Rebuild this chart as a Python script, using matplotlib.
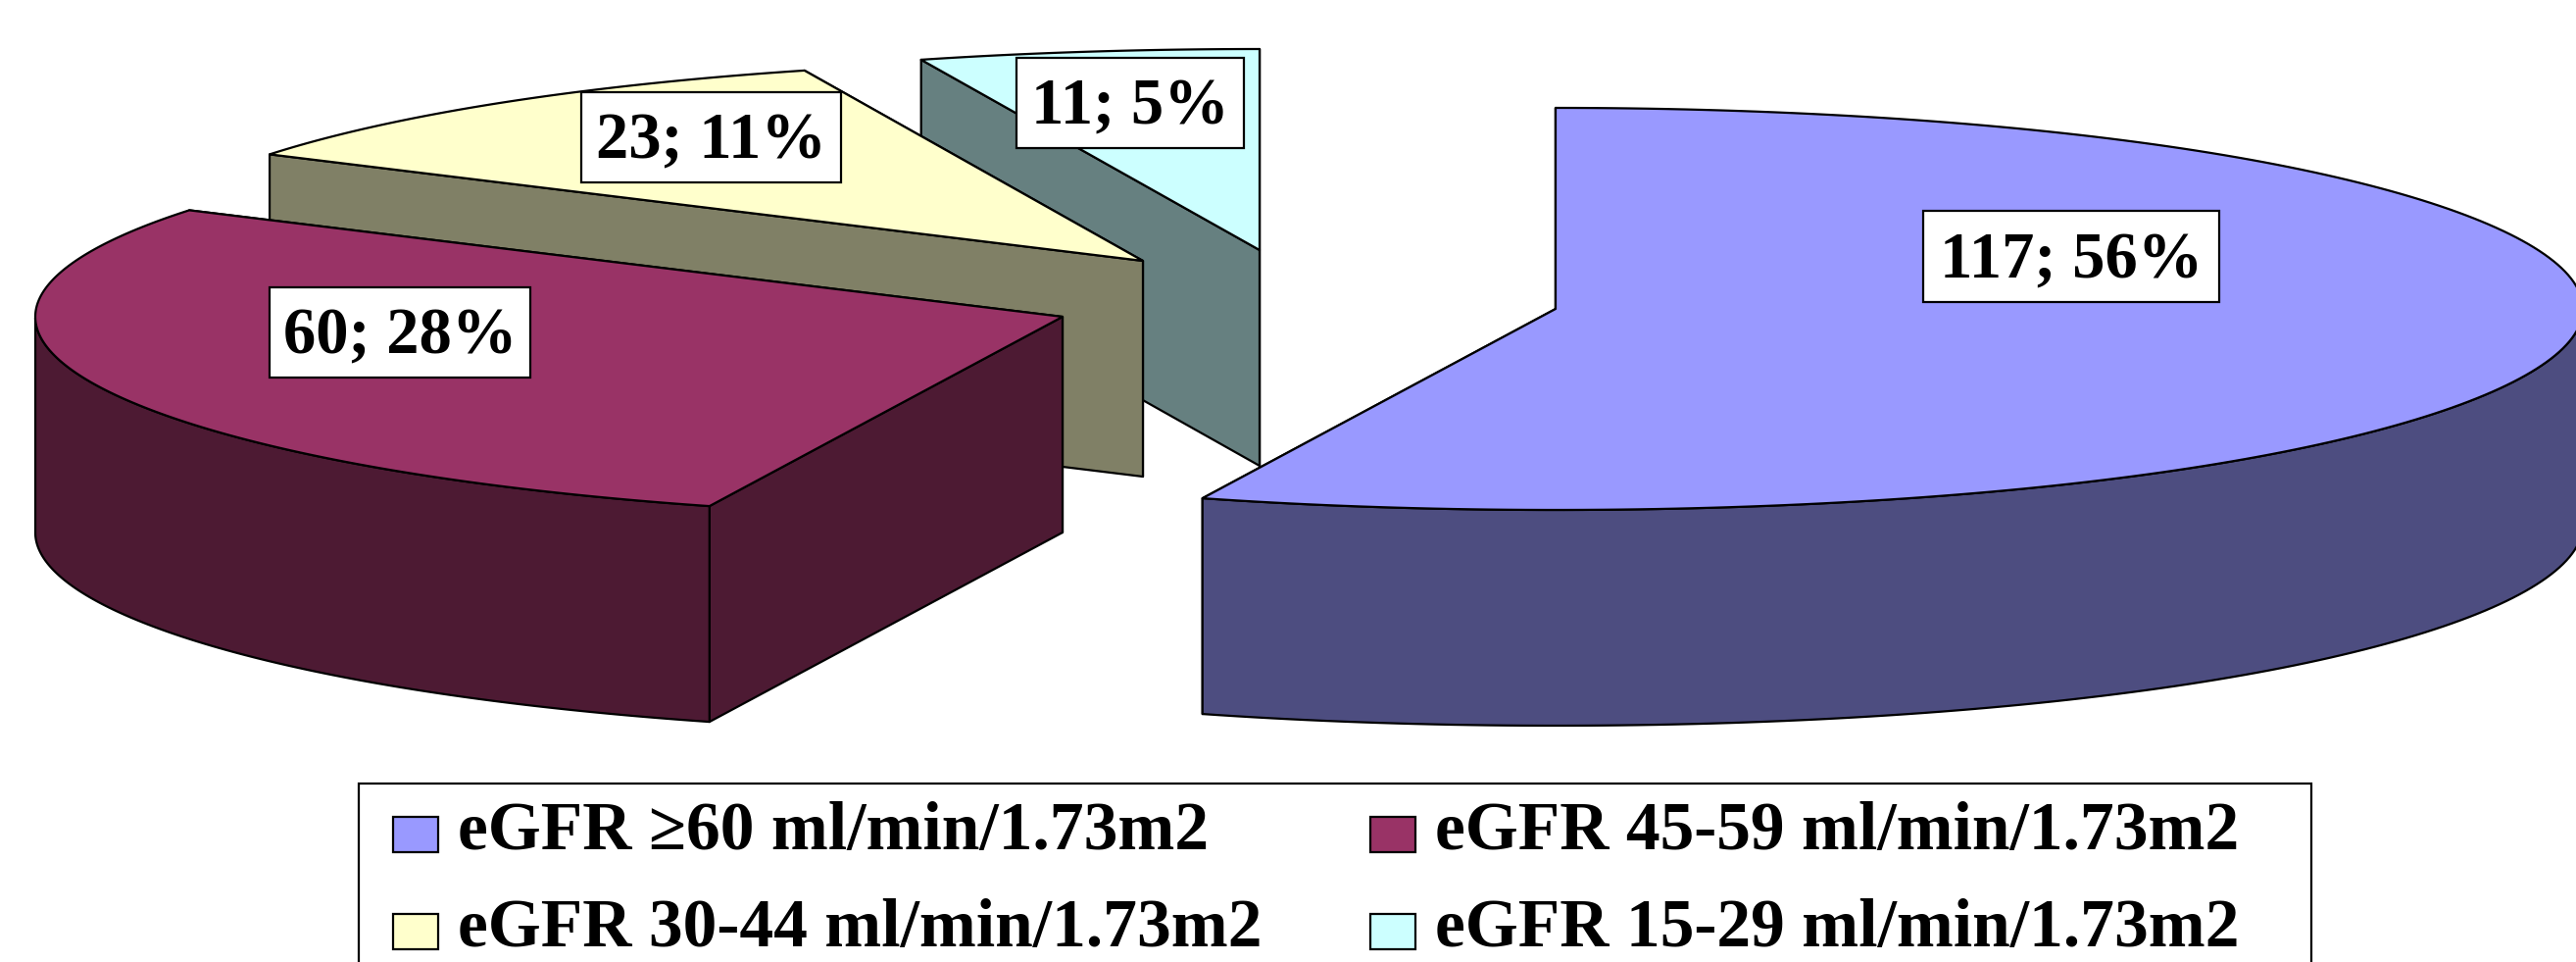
import numpy as np
import matplotlib
matplotlib.use('Agg')
import matplotlib.pyplot as plt
from matplotlib.patches import Polygon, Rectangle

# data
categories = ['eGFR \u226560 ml/min/1.73m2', 'eGFR 45-59 ml/min/1.73m2',
              'eGFR 30-44 ml/min/1.73m2', 'eGFR 15-29 ml/min/1.73m2']
values = [117, 60, 23, 11]
percents = [56, 28, 11, 5]

top_colors = ['#9999FF', '#993366', '#FFFFCC', '#CCFFFF']
side_colors = ['#4D4D80', '#4D1A33', '#808066', '#668080']

# exploded slice centres in pixels, and where each label box sits
centers = [(1587, 315), (1084, 323), (1166, 266), (1285, 255)]
label_boxes = [(1962, 215, 302, 93), (275, 293, 266, 92), (593, 94, 265, 92), (1037, 59, 232, 92)]

RX = 1048
RY = 205
DEPTH = 220
LW = 1.6
SQUARE = 0.03  # the rim is a little fuller than an ellipse near top and bottom

plt.rcParams['font.family'] = ['Liberation Serif', 'DejaVu Serif']
plt.rcParams['font.weight'] = 'bold'

fig = plt.figure(figsize=(26.28, 9.81), dpi=100)
ax = fig.add_axes([0, 0, 1, 1])
ax.set_xlim(0, 2628)
ax.set_ylim(981, 0)
ax.axis('off')


def rim(cx, cy, a):
    # a in degrees, screen y goes down
    a = np.radians(a)
    x = RX * np.cos(a) * (1 + SQUARE * np.sin(a) ** 4)
    return np.column_stack([cx + x, cy - RY * np.sin(a)])


def draw_slice(cx, cy, a0, a1, top, side, z):
    # a0 > a1, slice runs clockwise from a0 to a1
    angles = np.linspace(a0, a1, 200)
    arc = rim(cx, cy, angles)
    c = np.array([cx, cy])
    down = np.array([0, DEPTH])

    # back wall first, the one nearer the viewer after it
    edges = sorted([arc[0], arc[-1]], key=lambda p: p[1])
    for p in edges:
        ax.add_patch(Polygon([c, p, p + down, c + down], closed=True, fc=side,
                             ec='black', lw=LW, joinstyle='round', zorder=z))

    # outer skin, only the part of the rim facing the viewer
    front = arc[np.sin(np.radians(angles)) < 0]
    if len(front) > 1:
        skin = np.vstack([front, (front + down)[::-1]])
        ax.add_patch(Polygon(skin, closed=True, fc=side, ec='black', lw=LW,
                             joinstyle='round', zorder=z))

    ax.add_patch(Polygon(np.vstack([c, arc]), closed=True, fc=top, ec='black',
                         lw=LW, joinstyle='round', zorder=z))


total = sum(values)
angle = 90.0
spans = []
for v in values:
    spans.append((angle, angle - v / total * 360))
    angle = spans[-1][1]

# back slices first
draw_order = [3, 2, 1, 0]
for z, i in enumerate(draw_order):
    draw_slice(centers[i][0], centers[i][1], spans[i][0], spans[i][1],
               top_colors[i], side_colors[i], z=z + 2)

for i in range(4):
    x, y, w, h = label_boxes[i]
    ax.add_patch(Rectangle((x, y), w, h, fc='white', ec='black', lw=LW, zorder=10))
    ax.text(x + w / 2, y + h / 2 + 5, '%d; %d%%' % (values[i], percents[i]), fontsize=48,
            ha='center', va='center', zorder=11)

# legend box runs off the bottom of the picture
ax.add_patch(Rectangle((366, 799), 1992, 260, fc='white', ec='black', lw=LW, zorder=1))
swatch_x = [401, 1398, 401, 1398]
swatch_y = [833, 833, 932, 932]
for i in range(4):
    ax.add_patch(Rectangle((swatch_x[i], swatch_y[i]), 46, 36, fc=top_colors[i], ec='black',
                           lw=LW, zorder=2))
    ax.text(swatch_x[i] + 66, swatch_y[i] + 33, categories[i], fontsize=50, ha='left',
            va='baseline', zorder=2)

fig.savefig('out.png', dpi=100)
